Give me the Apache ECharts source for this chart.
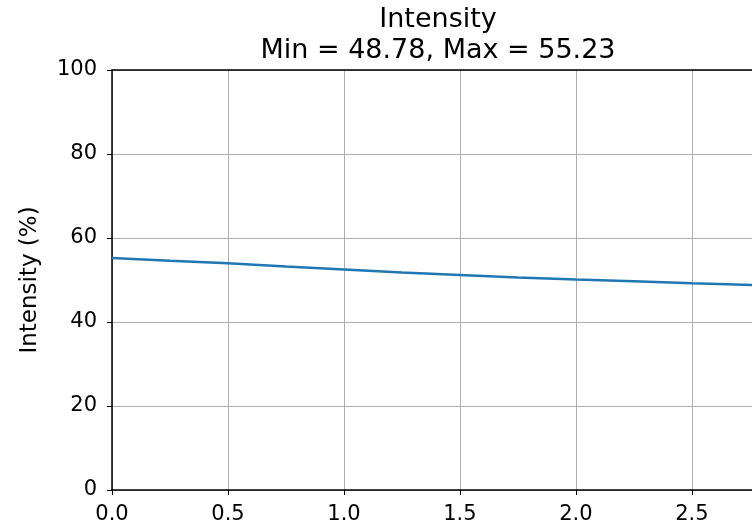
<!DOCTYPE html>
<html>
<head>
<meta charset="utf-8">
<script src="https://cdn.jsdelivr.net/npm/echarts@6/dist/echarts.min.js"></script>
<style>
  html, body { margin: 0; padding: 0; background: #fff; }
  #chart { width: 752px; height: 527px; }
</style>
</head>
<body>
<div id="chart"></div>
<script>
// Sample positions along the x axis
const xValues = [0, 0.25, 0.5, 0.75, 1.0, 1.25, 1.5, 1.75, 2.0, 2.25, 2.5, 2.77];
// Intensity (%) at each position
const intensity = [55.23, 54.6, 54.0, 53.2, 52.5, 51.8, 51.2, 50.6, 50.1, 49.7, 49.25, 48.78];
// Axis ticks
const yTicks = [0, 20, 40, 60, 80, 100];
const xTickStep = 0.5;
// Visible end of the x range (the right spine sits just past the edge)
const xVisibleMax = 2.759;

const minVal = Math.min(...intensity).toFixed(2);
const maxVal = Math.max(...intensity).toFixed(2);

const FONT = 'DejaVu Sans';
const chart = echarts.init(document.getElementById('chart'), null, { renderer: 'canvas' });

const spine = { show: true, lineStyle: { color: '#000', width: 1.5 } };
const ticks = { show: true, length: 5, lineStyle: { color: '#000', width: 1 } };
const gridLines = { show: true, lineStyle: { color: '#b0b0b0', width: 1 } };

chart.setOption({
  animation: false,
  backgroundColor: '#ffffff',
  title: {
    text: 'Intensity\nMin = ' + minVal + ', Max = ' + maxVal,
    left: 433,
    top: -1,
    textAlign: 'center',
    textStyle: {
      fontFamily: FONT,
      fontSize: 27,
      fontWeight: 'normal',
      color: '#000',
      lineHeight: 31
    }
  },
  grid: {
    left: 112,
    top: 70,
    bottom: 37,
    right: 0,
    containLabel: false
  },
  xAxis: [{
    type: 'value',
    min: 0,
    max: xVisibleMax,
    interval: xTickStep,
    axisLine: spine,
    axisTick: ticks,
    axisLabel: {
      showMaxLabel: false,
      fontFamily: FONT,
      fontSize: 21,
      color: '#000',
      margin: 14,
      formatter: v => v.toFixed(1)
    },
    splitLine: gridLines
  }, {
    // top spine only
    type: 'value',
    position: 'top',
    min: 0,
    max: xVisibleMax,
    interval: xTickStep,
    axisLine: spine,
    axisTick: { show: false },
    axisLabel: { show: false },
    splitLine: { show: false }
  }],
  yAxis: {
    type: 'value',
    min: yTicks[0],
    max: yTicks[yTicks.length - 1],
    interval: yTicks[1] - yTicks[0],
    name: 'Intensity (%)',
    nameLocation: 'middle',
    nameGap: 70,
    nameTextStyle: { fontFamily: FONT, fontSize: 23, color: '#000' },
    axisLine: spine,
    axisTick: ticks,
    axisLabel: { fontFamily: FONT, fontSize: 21, color: '#000', margin: 15 },
    splitLine: gridLines
  },
  series: [{
    type: 'line',
    xAxisIndex: 0,
    data: xValues.map((x, i) => [x, intensity[i]]),
    showSymbol: false,
    smooth: false,
    clip: true,
    lineStyle: { color: '#1f77b4', width: 2.5 },
    itemStyle: { color: '#1f77b4' }
  }]
});
</script>
</body>
</html>
